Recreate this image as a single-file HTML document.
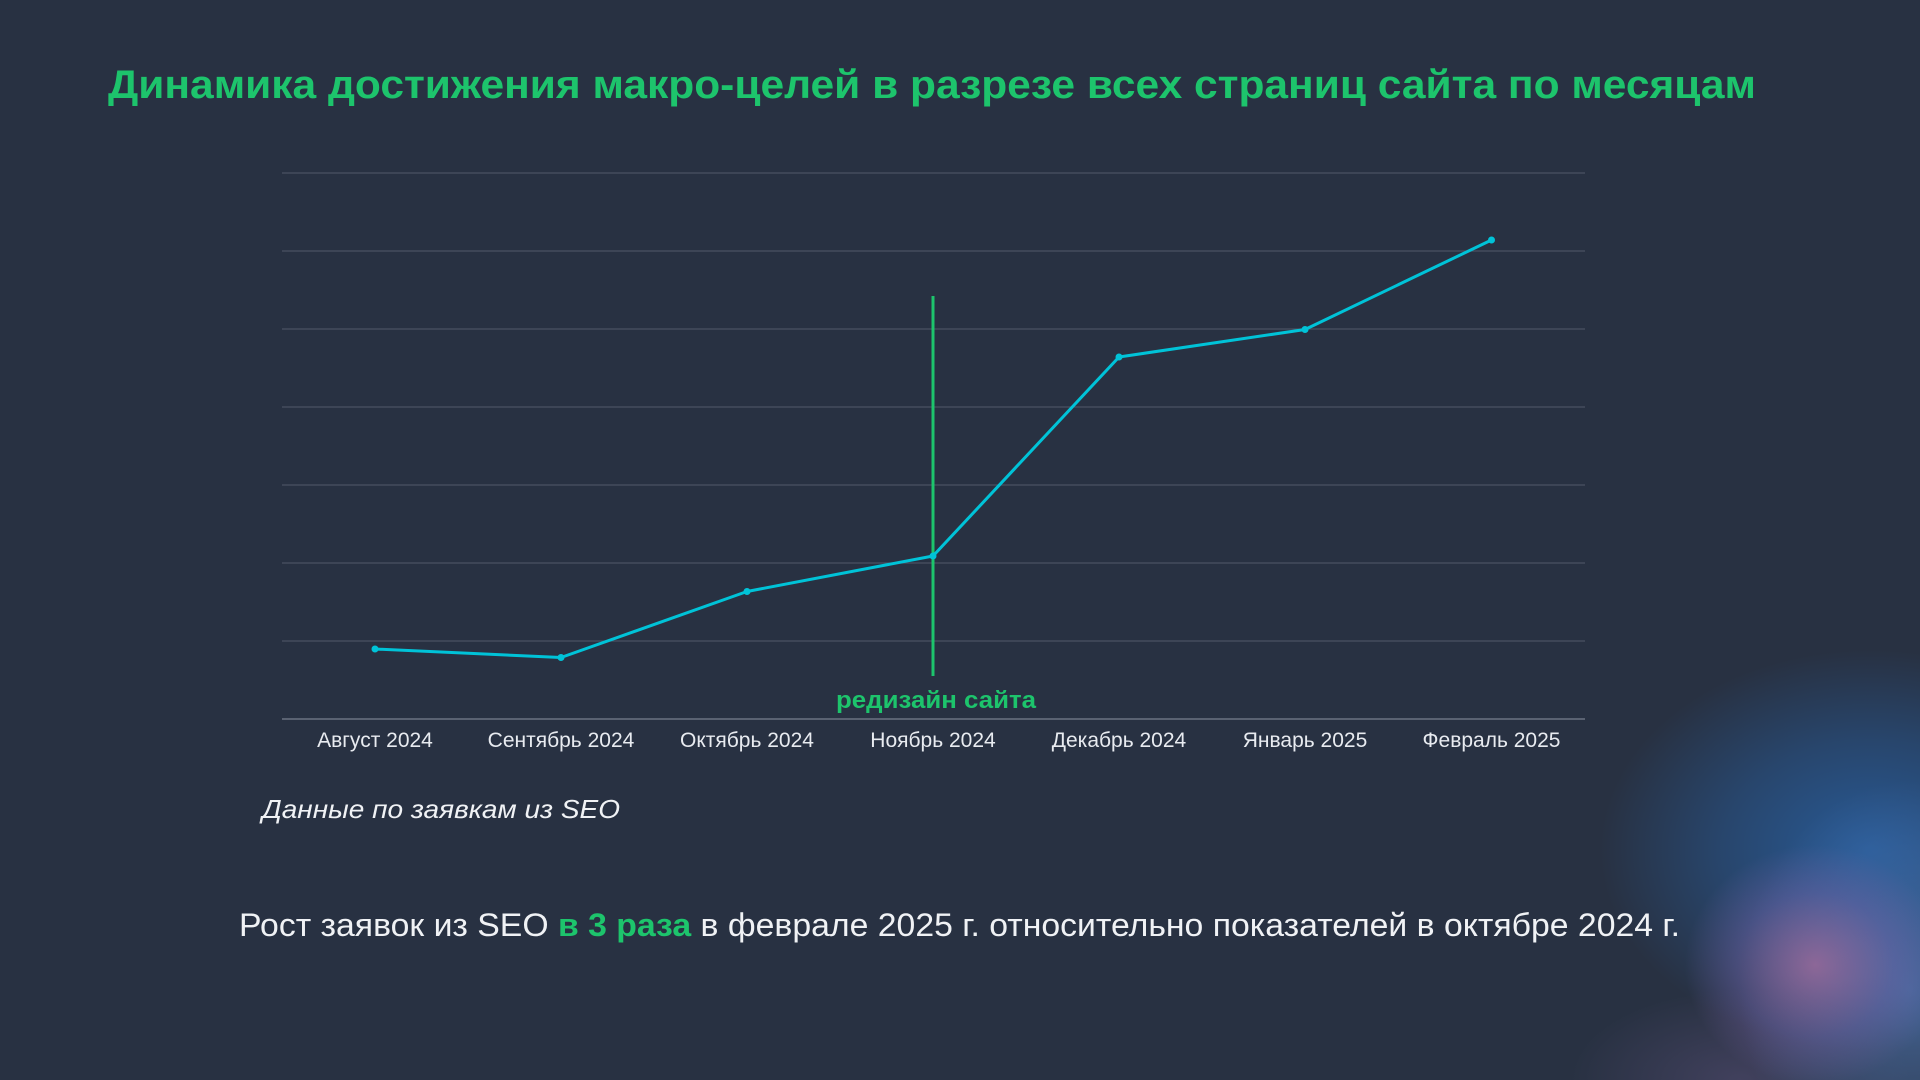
<!DOCTYPE html>
<html><head><meta charset="utf-8"><style>
html,body{margin:0;padding:0;}
body{width:1920px;height:1080px;overflow:hidden;background:#283142;position:relative;font-family:"Liberation Sans","Noto Sans CJK SC",sans-serif;}
.blob{position:absolute;left:0;top:0;width:1920px;height:1080px;
background:
radial-gradient(ellipse 130px 120px at 1815px 965px, rgba(170,110,160,0.75), rgba(120,100,170,0.4) 60%, rgba(80,110,170,0) 100%),
radial-gradient(ellipse 170px 210px at 1910px 990px, rgba(80,120,180,0.7), rgba(80,120,180,0) 100%),
radial-gradient(ellipse 270px 200px at 1870px 850px, rgba(40,95,160,0.9), rgba(40,90,150,0.5) 55%, rgba(40,80,130,0) 100%),
radial-gradient(ellipse 170px 90px at 1740px 1080px, rgba(90,80,120,0.5), rgba(90,80,120,0) 100%);}
svg{position:absolute;left:0;top:0;}
</style></head><body>
<div class="blob"></div>
<svg width="1920" height="1080" viewBox="0 0 1920 1080">
<text x="108" y="98" font-family="Liberation Sans, sans-serif" font-weight="bold" font-size="40" fill="#1dc46c" textLength="1648" lengthAdjust="spacingAndGlyphs">Динамика достижения макро-целей в разрезе всех страниц сайта по месяцам</text>
<g stroke="#4a5263" stroke-width="1.3">
<line x1="282" y1="173" x2="1585" y2="173"/>
<line x1="282" y1="251" x2="1585" y2="251"/>
<line x1="282" y1="329" x2="1585" y2="329"/>
<line x1="282" y1="407" x2="1585" y2="407"/>
<line x1="282" y1="485" x2="1585" y2="485"/>
<line x1="282" y1="563" x2="1585" y2="563"/>
<line x1="282" y1="641" x2="1585" y2="641"/>
</g>
<line x1="282" y1="719" x2="1585" y2="719" stroke="#6a7282" stroke-width="1.5"/>
<line x1="933" y1="296" x2="933" y2="676" stroke="#1dc46c" stroke-width="3"/>
<polyline points="375,649 561,657.5 747,591.5 933,556 1119,357 1305,329.5 1491.5,240" fill="none" stroke="#00c3d8" stroke-width="3" stroke-linejoin="round"/>
<g fill="#00c3d8">
<circle cx="375" cy="649" r="3.5"/><circle cx="561" cy="657.5" r="3.5"/><circle cx="747" cy="591.5" r="3.5"/><circle cx="933" cy="556" r="3.5"/><circle cx="1119" cy="357" r="3.5"/><circle cx="1305" cy="329.5" r="3.5"/><circle cx="1491.5" cy="240" r="3.5"/>
</g>
<text x="836" y="708" font-weight="bold" font-size="24" fill="#1dc46c" textLength="200" lengthAdjust="spacingAndGlyphs">редизайн сайта</text>
<g font-size="21" fill="#e8ebf0" text-anchor="middle">
<text x="375" y="747">Август 2024</text>
<text x="561" y="747">Сентябрь 2024</text>
<text x="747" y="747">Октябрь 2024</text>
<text x="933" y="747">Ноябрь 2024</text>
<text x="1119" y="747">Декабрь 2024</text>
<text x="1305" y="747">Январь 2025</text>
<text x="1491.5" y="747">Февраль 2025</text>
</g>
<text x="262" y="818" font-style="italic" font-size="26" fill="#f0f2f5" textLength="358" lengthAdjust="spacingAndGlyphs">Данные по заявкам из SEO</text>
<text x="239" y="936" font-size="32" fill="#f0f2f5" textLength="1441" lengthAdjust="spacingAndGlyphs">Рост заявок из SEO <tspan fill="#1dc46c" font-weight="bold">в 3 раза</tspan> в феврале 2025 г. относительно показателей в октябре 2024 г.</text>
</svg>
</body></html>
